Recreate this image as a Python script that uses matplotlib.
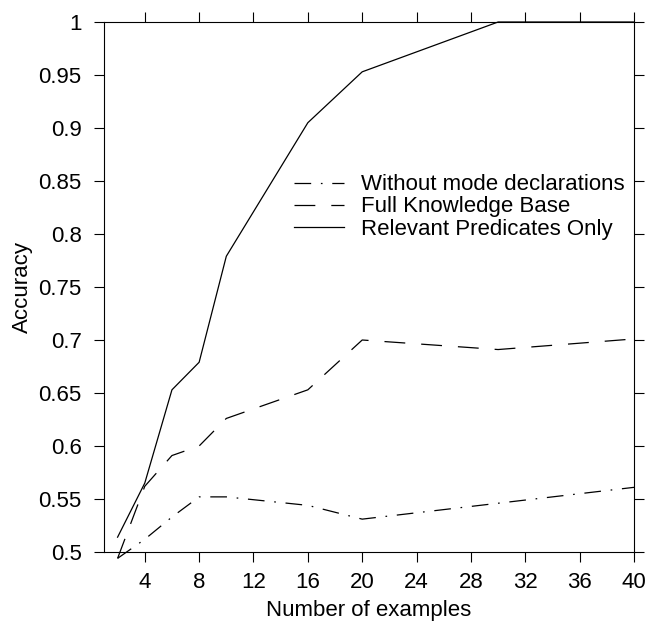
import numpy as np
import matplotlib
matplotlib.use('Agg')
import matplotlib.pyplot as plt

plt.rcParams['font.family'] = ['Liberation Sans', 'DejaVu Sans']
plt.rcParams['lines.scale_dashes'] = False

#data
x_vals = [2, 4, 6, 8, 10, 16, 20, 30, 40]
relevant_only = [0.514, 0.565, 0.653, 0.679, 0.779, 0.905, 0.953, 1.0, 1.0]
full_kb = [0.494, 0.562, 0.591, 0.600, 0.626, 0.653, 0.700, 0.691, 0.701]
no_modes = [0.494, 0.512, 0.533, 0.552, 0.552, 0.544, 0.531, 0.546, 0.561]

labels = ['Without mode declarations', 'Full Knowledge Base', 'Relevant Predicates Only']
x_ticks = np.arange(4, 41, 4)
y_ticks = [0.5, 0.55, 0.6, 0.65, 0.7, 0.75, 0.8, 0.85, 0.9, 0.95, 1]
y_tick_labels = ['0.5', '0.55', '0.6', '0.65', '0.7', '0.75', '0.8', '0.85', '0.9', '0.95', '1']

fig = plt.figure(figsize=(6.48, 6.21), dpi=100)
ax = fig.add_axes([104/648, 1-552/621, 530/648, 530/621])

lw = 0.9
l1, = ax.plot(x_vals, no_modes, color='black', lw=lw, clip_on=False,
              linestyle=(0, (12, 7, 1.2, 7)))
l2, = ax.plot(x_vals, full_kb, color='black', lw=lw, clip_on=False,
              linestyle=(0, (15, 11.5)))
l3, = ax.plot(x_vals, relevant_only, color='black', lw=lw, clip_on=False)

ax.set_xlim(1, 40)
ax.set_ylim(0.5, 1)
ax.set_xticks(x_ticks)
ax.set_yticks(y_ticks)
ax.set_yticklabels(y_tick_labels)
ax.tick_params(direction='out', length=7.2, width=0.8, top=True, right=True,
               labelsize=16, colors='black')
ax.tick_params(axis='x', pad=7)
ax.tick_params(axis='y', pad=9)
for s in ax.spines.values():
    s.set_linewidth(0.8)

ax.set_xlabel('Number of examples', fontsize=16, labelpad=5)
ax.set_ylabel('Accuracy', fontsize=16, labelpad=4)

leg = ax.legend([l1, l2, l3], labels, loc='center right',
                bbox_to_anchor=(0.983, 0.651), frameon=False, fontsize=16,
                handlelength=2.25, handletextpad=0.77, labelspacing=0.05,
                borderpad=0, borderaxespad=0)

fig.savefig('out.png', dpi=100)
